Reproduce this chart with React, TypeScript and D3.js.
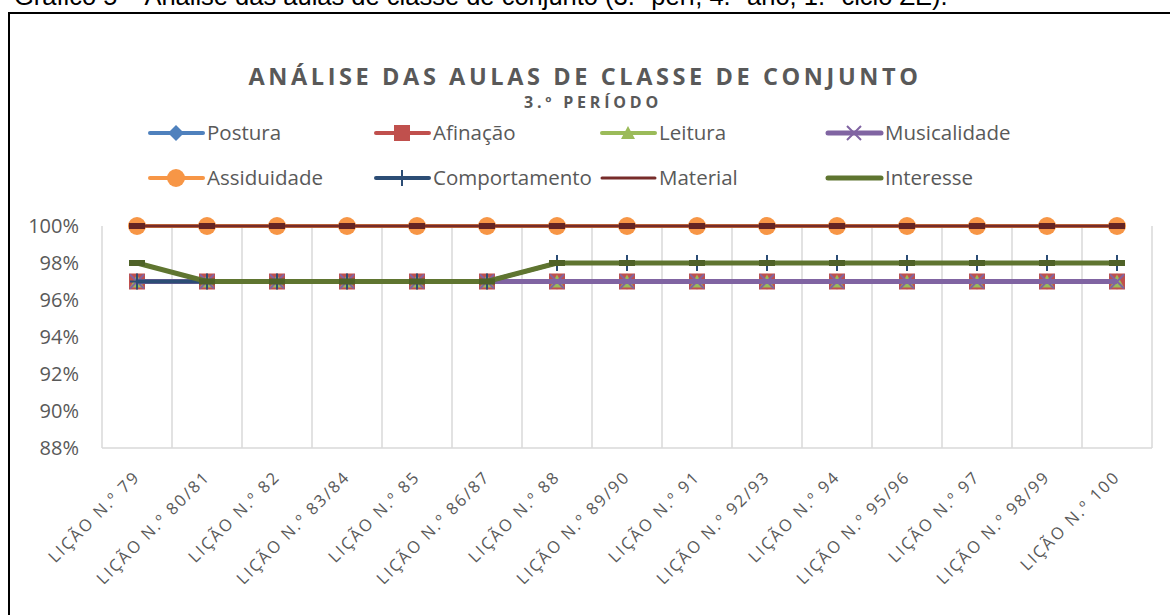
import React from 'react';
import * as d3 from 'd3';

const categories = [
  'LIÇÃO N.º 79', 'LIÇÃO N.º 80/81', 'LIÇÃO N.º 82', 'LIÇÃO N.º 83/84', 'LIÇÃO N.º 85',
  'LIÇÃO N.º 86/87', 'LIÇÃO N.º 88', 'LIÇÃO N.º 89/90', 'LIÇÃO N.º 91', 'LIÇÃO N.º 92/93',
  'LIÇÃO N.º 94', 'LIÇÃO N.º 95/96', 'LIÇÃO N.º 97', 'LIÇÃO N.º 98/99', 'LIÇÃO N.º 100',
];

const postura = [0.97, 0.97, 0.97, 0.97, 0.97, 0.97, 0.97, 0.97, 0.97, 0.97, 0.97, 0.97, 0.97, 0.97, 0.97];
const afinacao = [0.97, 0.97, 0.97, 0.97, 0.97, 0.97, 0.97, 0.97, 0.97, 0.97, 0.97, 0.97, 0.97, 0.97, 0.97];
const leitura = [0.97, 0.97, 0.97, 0.97, 0.97, 0.97, 0.97, 0.97, 0.97, 0.97, 0.97, 0.97, 0.97, 0.97, 0.97];
const musicalidade = [0.97, 0.97, 0.97, 0.97, 0.97, 0.97, 0.97, 0.97, 0.97, 0.97, 0.97, 0.97, 0.97, 0.97, 0.97];
const assiduidade = [1, 1, 1, 1, 1, 1, 1, 1, 1, 1, 1, 1, 1, 1, 1];
const comportamento = [0.97, 0.97, 0.97, 0.97, 0.97, 0.97, 0.98, 0.98, 0.98, 0.98, 0.98, 0.98, 0.98, 0.98, 0.98];
const material = [1, 1, 1, 1, 1, 1, 1, 1, 1, 1, 1, 1, 1, 1, 1];
const interesse = [0.98, 0.97, 0.97, 0.97, 0.97, 0.97, 0.98, 0.98, 0.98, 0.98, 0.98, 0.98, 0.98, 0.98, 0.98];

const yTicks = [0.88, 0.9, 0.92, 0.94, 0.96, 0.98, 1.0];

const series = [
  {name: 'Postura', values: postura, color: '#4F81BD', marker: 'diamond', width: 4},
  {name: 'Afinação', values: afinacao, color: '#C0504D', marker: 'square', width: 4},
  {name: 'Leitura', values: leitura, color: '#9BBB59', marker: 'triangle', width: 4},
  {name: 'Musicalidade', values: musicalidade, color: '#8064A2', marker: 'x', width: 5},
  {name: 'Assiduidade', values: assiduidade, color: '#F79646', marker: 'circle', width: 4},
  {name: 'Comportamento', values: comportamento, color: '#2C4D75', marker: 'plus', width: 4},
  {name: 'Material', values: material, color: '#772C2A', marker: 'dash', width: 3},
  {name: 'Interesse', values: interesse, color: '#5F7530', marker: 'dash', width: 5},
];

const gray = '#595959';
const font = '"Open Sans", "Noto Sans", sans-serif';

function Marker({type, x, y, color, legend}: {type: string; x: number; y: number; color: string; legend?: boolean}) {
  switch (type) {
    case 'diamond':
      return <path d={`M${x},${y - 8}L${x + 8},${y}L${x},${y + 8}L${x - 8},${y}Z`} fill={color} />;
    case 'square':
      return <rect x={x - 8} y={y - 8} width={16} height={16} fill={color} />;
    case 'triangle':
      return <path d={`M${x},${y - 7}L${x + 7},${y + 6}L${x - 7},${y + 6}Z`} fill={color} />;
    case 'x':
      return (
        <path d={`M${x - 7},${y - 7}L${x + 7},${y + 7}M${x + 7},${y - 7}L${x - 7},${y + 7}`}
          stroke={color} strokeWidth={2} />
      );
    case 'circle':
      return <circle cx={x} cy={y} r={9} fill={color} />;
    case 'plus':
      return (
        <path d={`M${x},${y - 8}V${y + 8}M${x - 7},${y}H${x + 7}`} stroke={color} strokeWidth={2} />
      );
    case 'dash':
      if (legend) return null;
      return <rect x={x - 8} y={y - 3} width={16} height={6}
        fill={d3.color(color)!.darker(0.5).toString()} />;
    default:
      return null;
  }
}

export default function App() {
  const width = 1170;
  const height = 615;
  const left = 102, right = 1152, top = 226, bottom = 448;

  const x = d3.scaleBand<string>().domain(categories).range([left, right]).padding(0);
  const cx = (c: string) => (x(c) as number) + x.bandwidth() / 2;
  const y = d3.scaleLinear().domain([0.88, 1.0]).range([bottom, top]);
  const line = d3.line<number>()
    .x((_, i) => cx(categories[i]))
    .y(d => y(d));

  const legendCols = [150, 376, 602, 828];
  const legendRows = [133, 178];

  return (
    <svg width={width} height={height} style={{position: 'absolute', left: 0, top: 0, background: '#fff'}}
      fontFamily={font}>
      <rect x={0} y={0} width={width} height={height} fill="#fff" />
      {/* page caption, cut at the top as in the source page */}
      <text x={14} y={5} fontFamily='"Liberation Sans", Arial, sans-serif' fontSize={25.5} fill="#000">
        Gráfico 5 – Análise das aulas de classe de conjunto (3.º perí, 4.º ano, 1.º ciclo ZE).
      </text>
      <rect x={9} y={13} width={1200} height={700} fill="none" stroke="#000" strokeWidth={2} />

      {/* titles */}
      <text x={585} y={85} textAnchor="middle" fontSize={23.5} fontWeight={700} fill={gray} letterSpacing={3.6}>
        ANÁLISE DAS AULAS DE CLASSE DE CONJUNTO
      </text>
      <text x={593} y={108} textAnchor="middle" fontSize={16} fontWeight={700} fill={gray} letterSpacing={3.8}>
        3.º PERÍODO
      </text>

      {/* legend */}
      {series.map((s, i) => {
        const lx = legendCols[i % 4];
        const ly = legendRows[Math.floor(i / 4)];
        return (
          <g key={s.name}>
            <line x1={lx} x2={lx + 53} y1={ly} y2={ly} stroke={s.color} strokeWidth={s.width} strokeLinecap="round" />
            <Marker type={s.marker} x={lx + 26} y={ly} color={s.color} legend />
            <text x={lx + 57} y={ly} dy="0.35em" fontSize={20.5} fill={gray}>{s.name}</text>
          </g>
        );
      })}

      {/* vertical gridlines */}
      {d3.range(categories.length + 1).map(i => {
        const gx = left + i * x.step();
        return <line key={i} x1={gx} x2={gx} y1={top} y2={bottom} stroke="#d9d9d9" strokeWidth={1.5} />;
      })}
      <line x1={left} x2={right} y1={bottom} y2={bottom} stroke="#d9d9d9" strokeWidth={1.5} />

      {/* y axis labels */}
      {yTicks.map(t => (
        <text key={t} x={79} y={y(t)} dy="0.35em" textAnchor="end" fontSize={20} fill={gray}>
          {d3.format('.0%')(t)}
        </text>
      ))}

      {/* x axis labels */}
      {categories.map(c => (
        <text key={c} transform={`translate(${cx(c) + 4},${bottom + 30}) rotate(-45)`} textAnchor="end"
          fontSize={16.5} letterSpacing={2} fill={gray}>
          {c}
        </text>
      ))}

      {/* series */}
      {series.map(s => (
        <g key={s.name}>
          <path d={line(s.values) || ''} fill="none" stroke={s.color} strokeWidth={s.width} />
          {s.values.map((v, i) => (
            <Marker key={i} type={s.marker} x={cx(categories[i])} y={y(v)} color={s.color} />
          ))}
        </g>
      ))}
    </svg>
  );
}
